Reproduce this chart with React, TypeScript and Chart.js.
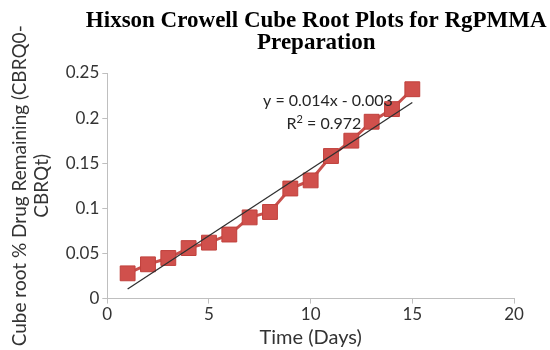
import React, { useEffect, useRef } from "react";
import { Chart, registerables } from "chart.js";

Chart.register(...registerables);

const days = [1, 2, 3, 4, 5, 6, 7, 8, 9, 10, 11, 12, 13, 14, 15];
const cbrValues = [0.028, 0.038, 0.045, 0.056, 0.062, 0.071, 0.09, 0.096, 0.122, 0.131, 0.158, 0.175, 0.196, 0.21, 0.232];
const xTickMax = 20;
const xTickStep = 5;
const yTickMax = 0.25;
const yTickStep = 0.05;
const titleLines = ["Hixson Crowell Cube Root Plots for RgPMMA", "Preparation"];
const yTitleLines = ["Cube root % Drug Remaining (CBRQ0-", "CBRQt)"];
const xTitle = "Time (Days)";
const equationText = "y = 0.014x - 0.003";
const r2Base = "R";
const r2Sup = "2";
const r2Rest = " = 0.972";
const labelAnchor = { x: 10.8, y: 0.219 };

function fitLine(xs: number[], ys: number[]) {
  const n = xs.length;
  const mx = xs.reduce((a, b) => a + b, 0) / n;
  const my = ys.reduce((a, b) => a + b, 0) / n;
  let sxy = 0, sxx = 0;
  for (let i = 0; i < n; i++) {
    sxy += (xs[i] - mx) * (ys[i] - my);
    sxx += (xs[i] - mx) ** 2;
  }
  const m = sxy / sxx;
  return { m, b: my - m * mx };
}

const titlePlugin = {
  id: "wideTitle",
  afterDraw(chart: any) {
    const { ctx } = chart;
    ctx.save();
    ctx.fillStyle = "#000";
    ctx.font = "bold 23px 'Liberation Serif'";
    ctx.textAlign = "center";
    ctx.textBaseline = "middle";
    const cx = chart.width * 0.575;
    titleLines.forEach((line, i) => ctx.fillText(line, cx, 21 + i * 22));
    ctx.restore();
  },
};

const equationPlugin = {
  id: "equationLabel",
  afterDatasetsDraw(chart: any) {
    const { ctx, scales } = chart;
    const cx = scales.x.getPixelForValue(labelAnchor.x);
    const cy = scales.y.getPixelForValue(labelAnchor.y);
    ctx.save();
    ctx.fillStyle = "#262626";
    ctx.textBaseline = "middle";
    ctx.font = "16px Lato";
    ctx.textAlign = "center";
    ctx.fillText(equationText, cx + 1, cy);
    const wBase = ctx.measureText(r2Base).width;
    const wRest = ctx.measureText(r2Rest).width;
    ctx.font = "11px Lato";
    const wSup = ctx.measureText(r2Sup).width;
    const total = wBase + wSup + wRest;
    const x0 = cx - total / 2 - 3;
    const ly = cy + 23;
    ctx.textAlign = "left";
    ctx.font = "16px Lato";
    ctx.fillText(r2Base, x0, ly);
    ctx.font = "11px Lato";
    ctx.fillText(r2Sup, x0 + wBase, ly - 5);
    ctx.font = "16px Lato";
    ctx.fillText(r2Rest, x0 + wBase + wSup, ly);
    ctx.restore();
  },
};

export default function App() {
  const ref = useRef<HTMLCanvasElement | null>(null);
  useEffect(() => {
    document.body.style.margin = "0";
    const fit = fitLine(days, cbrValues);
    const x1 = days[0];
    const x2 = days[days.length - 1];
    const chart = new Chart(ref.current!, {
      type: "scatter",
      data: {
        datasets: [
          {
            label: "Trend",
            data: [
              { x: x1, y: fit.m * x1 + fit.b },
              { x: x2, y: fit.m * x2 + fit.b },
            ],
            showLine: true,
            borderColor: "#303030",
            borderWidth: 1.3,
            pointRadius: 0,
            order: 0,
          },
          {
            label: "CBR",
            data: days.map((d, i) => ({ x: d, y: cbrValues[i] })),
            showLine: true,
            borderColor: "#c8504c",
            borderWidth: 3,
            pointStyle: "rect",
            pointRadius: 10.5,
            pointBackgroundColor: "#d0504c",
            pointBorderColor: "#c0403c",
            pointBorderWidth: 1,
            order: 1,
          },
        ],
      },
      options: {
        animation: false,
        responsive: false,
        maintainAspectRatio: false,
        layout: { padding: { right: 36, top: 73, left: 9, bottom: 0 } },
        plugins: {
          legend: { display: false },
          tooltip: { enabled: false },
          title: { display: false },
        },
        scales: {
          x: {
            type: "linear",
            min: 0,
            max: xTickMax,
            ticks: { stepSize: xTickStep, color: "#333", font: { family: "Lato", size: 17 }, padding: 1 },
            grid: { display: true, drawOnChartArea: false, drawTicks: true, tickLength: 5, color: "#bfbfbf" },
            border: { color: "#bfbfbf", width: 1 },
            title: { display: true, text: xTitle, color: "#333", font: { family: "Lato", size: 20 }, padding: { top: 0, bottom: 0 } },
          },
          y: {
            min: 0,
            max: yTickMax,
            ticks: {
              stepSize: yTickStep,
              color: "#333",
              font: { family: "Lato", size: 17 },
              padding: 3,
              callback: (v: any) => String(Math.round(Number(v) * 100) / 100),
            },
            grid: { display: true, drawOnChartArea: false, drawTicks: true, tickLength: 5, color: "#bfbfbf" },
            border: { color: "#bfbfbf", width: 1 },
            title: { display: true, text: yTitleLines, color: "#333", font: { family: "Lato", size: 19, lineHeight: 1.15 }, padding: { top: 0, bottom: 10 } },
          },
        },
      },
      plugins: [equationPlugin, titlePlugin],
    });
    return () => chart.destroy();
  }, []);
  return (
    <div style={{ width: 550, height: 350, background: "#fff" }}>
      <canvas ref={ref} width={550} height={350} style={{ display: "block" }} />
    </div>
  );
}
